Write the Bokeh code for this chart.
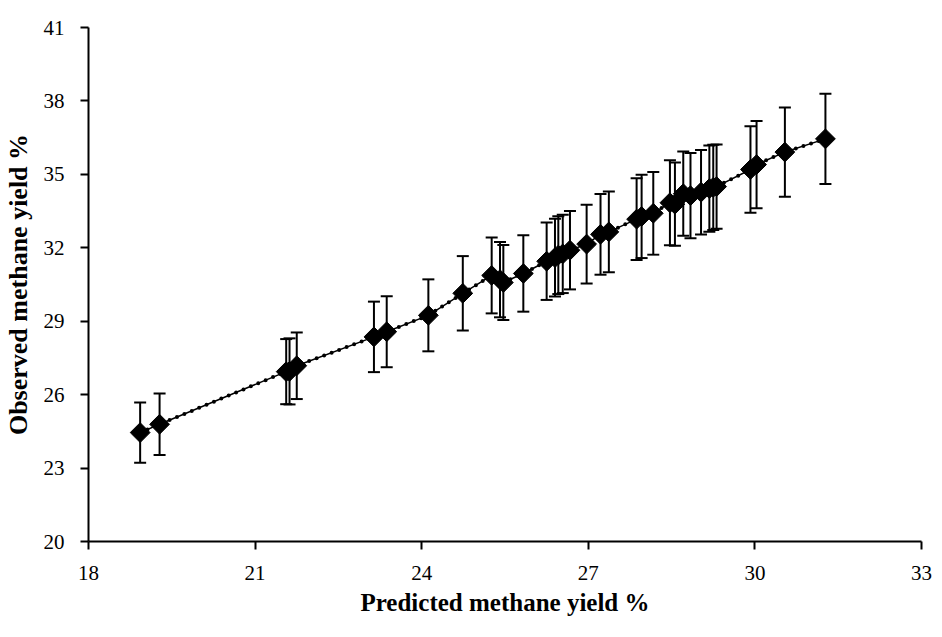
from bokeh.plotting import figure
from bokeh.models import ColumnDataSource, Whisker, TeeHead, FixedTicker, Range1d
from bokeh.embed import file_html
from bokeh.resources import INLINE

# Predicted methane yield % (x), observed methane yield % (y), error (±)
predicted = [18.93, 19.28, 21.56, 21.62, 21.75, 23.14, 23.37, 24.12, 24.74, 25.26,
             25.41, 25.47, 25.83, 26.25, 26.40, 26.46, 26.54, 26.67, 26.97, 27.22,
             27.37, 27.87, 27.96, 28.17, 28.47, 28.56, 28.71, 28.84, 29.03, 29.18,
             29.25, 29.31, 29.92, 30.03, 30.54, 31.27]
observed = [24.45, 24.79, 26.94, 26.95, 27.18, 28.36, 28.57, 29.24, 30.14, 30.87,
            30.70, 30.58, 30.95, 31.45, 31.60, 31.70, 31.75, 31.90, 32.15, 32.55,
            32.65, 33.17, 33.28, 33.41, 33.84, 33.78, 34.21, 34.13, 34.27, 34.42,
            34.47, 34.50, 35.20, 35.40, 35.91, 36.45]
error = [1.23, 1.26, 1.33, 1.35, 1.36, 1.44, 1.45, 1.47, 1.52, 1.55,
         1.54, 1.53, 1.56, 1.58, 1.59, 1.59, 1.60, 1.60, 1.61, 1.65,
         1.65, 1.67, 1.70, 1.69, 1.74, 1.70, 1.72, 1.74, 1.73, 1.76,
         1.74, 1.72, 1.77, 1.78, 1.82, 1.84]

x_ticks = [18, 21, 24, 27, 30, 33]
y_ticks = [20, 23, 26, 29, 32, 35, 38, 41]

src = ColumnDataSource(dict(
    x=predicted, y=observed,
    upper=[o + e for o, e in zip(observed, error)],
    lower=[o - e for o, e in zip(observed, error)],
))

p = figure(width=934, height=621, output_backend="svg", toolbar_location=None,
           x_range=Range1d(18, 33), y_range=Range1d(20, 41),
           min_border_left=87, min_border_right=14, min_border_top=27, min_border_bottom=80)
p.frame_width = 833
p.frame_height = 514
p.outline_line_color = None
p.grid.visible = False
p.background_fill_color = "white"
p.border_fill_color = "white"

# trend line made of small beads
p.line("x", "y", source=src, line_color="black", line_width=1.5)
p.line("x", "y", source=src, line_color="black", line_width=4, line_dash="0 8", line_cap="round")

wh = Whisker(base="x", upper="upper", lower="lower", source=src,
             line_color="black", line_width=2,
             upper_head=TeeHead(size=12, line_color="black", line_width=2),
             lower_head=TeeHead(size=12, line_color="black", line_width=2))
p.add_layout(wh)

p.scatter("x", "y", source=src, marker="square", size=14, angle=0.785398,
          fill_color="black", line_color="black")

for ax in (p.xaxis, p.yaxis):
    ax.axis_line_color = "black"
    ax.axis_line_width = 2
    ax.major_tick_line_color = "black"
    ax.major_tick_line_width = 2
    ax.major_tick_out = 8
    ax.major_tick_in = 0
    ax.minor_tick_line_color = None
    ax.major_label_text_font = "Liberation Serif"
    ax.major_label_text_font_size = "21px"
    ax.major_label_text_color = "black"
    ax.axis_label_text_font = "Liberation Serif"
    ax.axis_label_text_font_style = "bold"
    ax.axis_label_text_color = "black"

p.xaxis.axis_label_text_font_size = "25px"
p.yaxis.axis_label_text_font_size = "26px"
p.xaxis.ticker = FixedTicker(ticks=x_ticks)
p.yaxis.ticker = FixedTicker(ticks=y_ticks)
p.xaxis.axis_label = "Predicted methane yield %"
p.yaxis.axis_label = "Observed methane yield %"
p.xaxis.major_label_standoff = 16
p.yaxis.major_label_standoff = 16
p.xaxis.axis_label_standoff = 6
p.yaxis.axis_label_standoff = 8

open("out.html", "w").write(file_html(p, INLINE))
